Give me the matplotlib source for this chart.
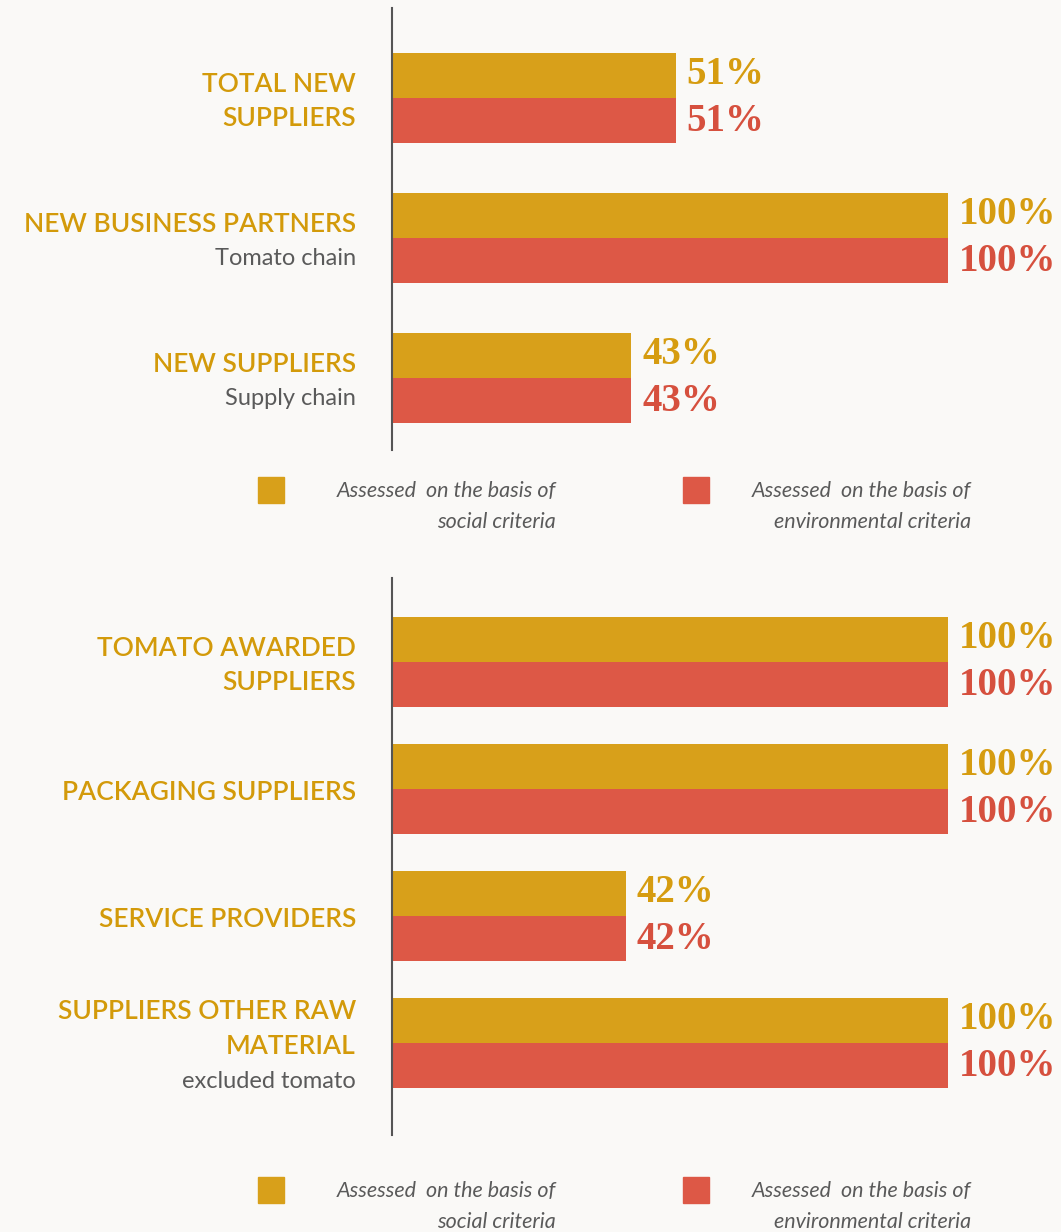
import matplotlib.pyplot as plt
from matplotlib.patches import Rectangle

# data
top_labels = [["TOTAL NEW", "SUPPLIERS"], ["NEW BUSINESS PARTNERS"], ["NEW SUPPLIERS"]]
top_sub = ["", "Tomato chain", "Supply chain"]
top_social = [51, 100, 43]
top_env = [51, 100, 43]

bottom_labels = [["TOMATO AWARDED", "SUPPLIERS"], ["PACKAGING SUPPLIERS"],
                 ["SERVICE PROVIDERS"], ["SUPPLIERS OTHER RAW", "MATERIAL"]]
bottom_sub = ["", "", "", "excluded tomato"]
bottom_social = [100, 100, 42, 100]
bottom_env = [100, 100, 42, 100]

legend_text = ["Assessed  on the basis of\nsocial criteria",
               "Assessed  on the basis of\nenvironmental criteria"]

# styles
YELLOW = "#D8A01A"
RED = "#DD5846"
GOLD_TXT = "#D39A0A"
YELLOW_VAL = "#D69C10"
RED_VAL = "#D6503E"
GREY_TXT = "#5a5a5a"
BG = "#FAF9F7"

W, H = 1061, 1232
fig = plt.figure(figsize=(W / 100, H / 100), dpi=100, facecolor=BG)


def px_axes(x0, y0, y1):
    # axes from pixel x0 to right edge, y0..y1 measured from top
    return fig.add_axes([x0 / W, 1 - y1 / H, 1 - x0 / W, (y1 - y0) / H])


def draw_panel(ax, labels, subs, social, env, h, ylim):
    n = len(social)
    pos = list(range(n))
    ax.barh([p - h / 2 for p in pos], social, height=h, color=YELLOW, left=0)
    ax.barh([p + h / 2 for p in pos], env, height=h, color=RED, left=0)
    ax.set_xlim(0, 120.3)
    ax.set_ylim(*ylim)
    ax.set_facecolor("none")
    for s in ["top", "right", "bottom"]:
        ax.spines[s].set_visible(False)
    ax.spines["left"].set_color("#555555")
    ax.spines["left"].set_linewidth(1.5)
    ax.set_xticks([])
    ax.set_yticks([])
    for i in pos:
        ax.annotate(f"{social[i]}%", xy=(social[i], i - h / 2), xytext=(8, 1),
                    textcoords="offset points", ha="left", va="center",
                    fontsize=28, fontweight="bold", family="Liberation Serif",
                    color=YELLOW_VAL)
        ax.annotate(f"{env[i]}%", xy=(env[i], i + h / 2), xytext=(8, -1),
                    textcoords="offset points", ha="left", va="center",
                    fontsize=28, fontweight="bold", family="Liberation Serif",
                    color=RED_VAL)
        lines = [(t, True) for t in labels[i]]
        if subs[i]:
            lines.append((subs[i], False))
        k = len(lines)
        for j, (t, main) in enumerate(lines):
            off = ((k - 1) / 2 - j) * 25.0 - 2.5
            ax.annotate(t, xy=(0, i), xycoords=ax.get_yaxis_transform(),
                        xytext=(-26, off), textcoords="offset points",
                        ha="right", va="center", family="Lato",
                        fontsize=19 if main else 17,
                        fontweight="semibold" if main else "normal",
                        color=GOLD_TXT if main else GREY_TXT)


def draw_legend(y_top):
    for x_sq, x_txt, col, txt in [(258, 556, YELLOW, legend_text[0]),
                                  (683, 971, RED, legend_text[1])]:
        fig.add_artist(Rectangle((x_sq / W, 1 - (y_top + 26) / H), 26 / W, 26 / H,
                                 transform=fig.transFigure, color=col))
        a, b = txt.split("\n")
        fig.text(x_txt / W, 1 - (y_top + 14) / H, a, ha="right", va="center",
                 family="Lato", style="italic", fontsize=15.5, color=GREY_TXT)
        fig.text(x_txt / W, 1 - (y_top + 45) / H, b, ha="right", va="center",
                 family="Lato", style="italic", fontsize=15.5, color=GREY_TXT)


ax1 = px_axes(392, 8, 450)
draw_panel(ax1, top_labels, top_sub, top_social, top_env, 45 / 140,
           (2 + 72 / 140, -90 / 140))

ax2 = px_axes(392, 578, 1135)
draw_panel(ax2, bottom_labels, bottom_sub, bottom_social, bottom_env, 45 / 127,
           (3 + 92 / 127, -84 / 127))

draw_legend(477)
draw_legend(1177)

fig.savefig("out.png", dpi=100, facecolor=BG)
